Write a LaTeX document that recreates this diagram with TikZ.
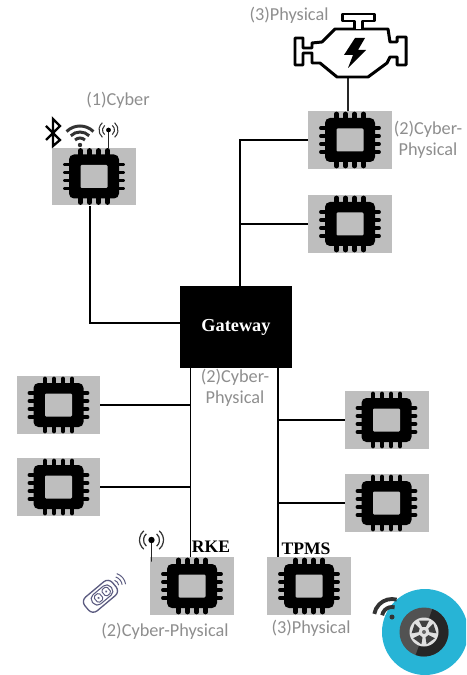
\documentclass[tikz,border=0pt]{standalone}
\usepackage{fontspec}
\setmainfont{Carlito}
\newfontfamily\boldserif{Liberation Serif}
\usepackage{xcolor}
\usetikzlibrary{positioning,calc}
\definecolor{chipgray}{HTML}{BEBEBE}
\definecolor{labelgray}{HTML}{8E8E8E}
\definecolor{fobline}{HTML}{5B5B80}
\definecolor{wheelblue}{HTML}{27B4D6}
\tikzset{
  chipbox/.style={fill=chipgray, minimum width=1.68cm, minimum height=1.16cm, inner sep=0pt, outer sep=0pt},
  wire/.style={line width=1.1pt, black},
  iconline/.style={line width=0.9pt, line cap=round, black!85},
  graylabel/.style={text=labelgray, font=\fontsize{10.4}{12}\selectfont, align=center, inner sep=0pt},
  tagtext/.style={font=\boldserif\bfseries\fontsize{10}{11}\selectfont, inner sep=0pt},
  chip/.pic={
    \foreach \px in {-13.5,-4.5,4.5,13.5} {
      \draw[black, line width=2.7pt, line cap=round] (\px,-26) -- (\px,26);
    }
    \foreach \py in {-12,-4,4,12} {
      \draw[black, line width=2.2pt, line cap=round] (-29,\py) -- (29,\py);
    }
    \fill[black, rounded corners=2.8pt] (-25,-22) rectangle (25,22);
    \fill[chipgray, rounded corners=0.6pt] (-13.5,-11.5) rectangle (13.5,11.5);
  }
}
\begin{document}
\begin{tikzpicture}[x=0.02cm, y=-0.02cm]
  \clip (0,0) rectangle (466,675);

  % Chips
  \foreach \nm/\cx/\cy in {cyb/94/176.5, cpa/350/140, cpb/350/224, lfa/58.5/405, lfb/58.5/487,
      rta/386.5/420, rtb/386.5/503, rke/192/586, tpm/309/586} {
    \node[chipbox] (\nm) at (\cx,\cy) {};
    \pic at (\nm) {chip};
  }

  % Gateway
  \node[fill=black, minimum width=2.24cm, minimum height=1.64cm, inner sep=0pt, text=white,
    font=\boldserif\bfseries\fontsize{10.4}{12}\selectfont] (gw) at (236,327) {Gateway};
  \coordinate (gwtop) at (240,286);
  \coordinate (gwin) at (180,323);
  \coordinate (gwl) at (190.5,368);
  \coordinate (gwr) at (278,368);
  \coordinate (cyblow) at (90,206);

  % Connectors
  \draw[wire] (gwtop) |- (cpa.west);
  \draw[wire] (gwtop |- cpb.west) -- (cpb.west);
  \draw[wire] (cyblow) |- (gwin);
  \draw[wire] (gwl) -- (gwl |- rke.north);
  \draw[wire] (gwr) -- (gwr |- tpm.north);
  \draw[wire] (lfa.east) -- (lfa.east -| gwl);
  \draw[wire] (lfb.east) -- (lfb.east -| gwl);
  \draw[wire] (rta.west) -- (rta.west -| gwr);
  \draw[wire] (rtb.west) -- (rtb.west -| gwr);

  % Engine
  \coordinate (engbase) at (348,77);
  \coordinate (engchip) at (348,111);
  \draw[wire, black!85] (engbase) -- (engchip);
  \draw[line width=1.7pt, fill=white, line join=round]
    (335,29) -- (388,29) -- (390,42) -- (397,42) -- (397,37) -- (406,37) -- (406,65) -- (397,65)
    -- (397,57) -- (390,57) -- (387,63) -- (368,77) -- (337,77) -- (320,63) -- (312,63) -- (312,53)
    -- (303,53) -- (303,65) -- (295,65) -- (295,38) -- (303,38) -- (303,48) -- (312,48) -- (312,43)
    -- (322,42) -- cycle;
  \draw[line width=1.7pt, fill=white, line join=round]
    (354,29) -- (354,21) -- (342,21) -- (342,14) -- (374,14) -- (374,21) -- (362,21) -- (362,29);
  \fill[black] (355,38) -- (365,38) -- (358,50) -- (366,50) -- (348,68) -- (353,55) -- (344,55) -- cycle;

  % Bluetooth
  \draw[line width=1.3pt, line join=miter] (46,126) -- (60,140) -- (53,146) -- (53,119) -- (60,126) -- (46,140);

  % Wifi
  \foreach \rr in {7,13,19} {
    \draw[line width=1.7pt, black!80] ([shift={(-45:\rr)}]80,145) arc[start angle=-45, end angle=-135, radius=\rr];
  }
  \fill[black!80] (80,145) circle (2.2);

  % Antennas
  \draw[iconline] (108.5,148) -- (108.5,130);
  \fill[black] (108.5,130) circle (2.4);
  \draw[iconline] (151.5,561) -- (151.5,540);
  \fill[black] (151.5,540) circle (3.2);
  \foreach \rr in {6,9.5} {
    \draw[line width=0.6pt, black!80] ([shift={(-50:\rr)}]108.5,130) arc[start angle=-50, end angle=50, radius=\rr];
    \draw[line width=0.6pt, black!80] ([shift={(130:\rr)}]108.5,130) arc[start angle=130, end angle=230, radius=\rr];
  }
  \foreach \rr in {8,12} {
    \draw[line width=0.7pt, black!80] ([shift={(-50:\rr)}]151.5,540) arc[start angle=-50, end angle=50, radius=\rr];
    \draw[line width=0.7pt, black!80] ([shift={(130:\rr)}]151.5,540) arc[start angle=130, end angle=230, radius=\rr];
  }

  % Key fob
  \begin{scope}[shift={(102,595)}, rotate=40]
    \draw[fobline, line width=0.75pt, rounded corners=3.5pt] (-20,-9) rectangle (16,9);
    \draw[fobline, line width=0.6pt, rounded corners=3pt] (-12,-6) rectangle (12,6);
    \draw[fobline, line width=0.55pt, rounded corners=1pt] (-8,-4) rectangle (-1,4);
    \draw[fobline, line width=0.55pt, rounded corners=1pt] (2,-4) rectangle (9,4);
    \fill[fobline] (-4.5,0) circle (1.2);
    \fill[fobline] (5.5,0) circle (1.2);
    \foreach \rr in {6,9.5,13} {
      \draw[fobline, line width=0.55pt] ([shift={(-32:\rr)}]14,0) arc[start angle=-32, end angle=32, radius=\rr];
    }
  \end{scope}

  % Wheel
  \fill[wheelblue] (425,632) circle (43);
  \fill[black!68] (424,632) circle (24.5);
  \fill[black!85] (424,632) -- ++(-70:24.5) arc[start angle=-70, end angle=110, radius=24.5] -- cycle;
  \fill[black!12] (424,632) circle (14.5);
  \foreach \aa in {-162,-90,-18,54,126} {
    \fill[black!75] ([shift={(\aa-20:5.5)}]424,632) -- ([shift={(\aa-24:12.5)}]424,632) -- ([shift={(\aa+24:12.5)}]424,632)
      -- ([shift={(\aa+20:5.5)}]424,632) -- cycle;
  }
  \fill[black!60] (424,632) circle (2);
  \fill[black!80] (392,617) circle (2.5);
  \foreach \rr in {10,18} {
    \draw[line width=2.2pt, black!80] ([shift={(-75:\rr)}]392,617) arc[start angle=-75, end angle=-170, radius=\rr];
  }

  % Labels
  \node[graylabel] (lbcyb) at (118,100) {(1)Cyber};
  \node[graylabel] (lbeng) at (289,15) {(3)Physical};
  \node[graylabel] (lbcpa) at (428,140) {(2)Cyber-\\Physical};
  \node[graylabel] (lbgw) at (235,388) {(2)Cyber-\\Physical};
  \node[graylabel] (lbrke) at (165,631) {(2)Cyber-Physical};
  \node[graylabel] (lbtpm) at (311,628) {(3)Physical};
  \node[tagtext] (tgrke) at (211,547) {RKE};
  \node[tagtext] (tgtpm) at (306,549) {TPMS};
\end{tikzpicture}
\end{document}
